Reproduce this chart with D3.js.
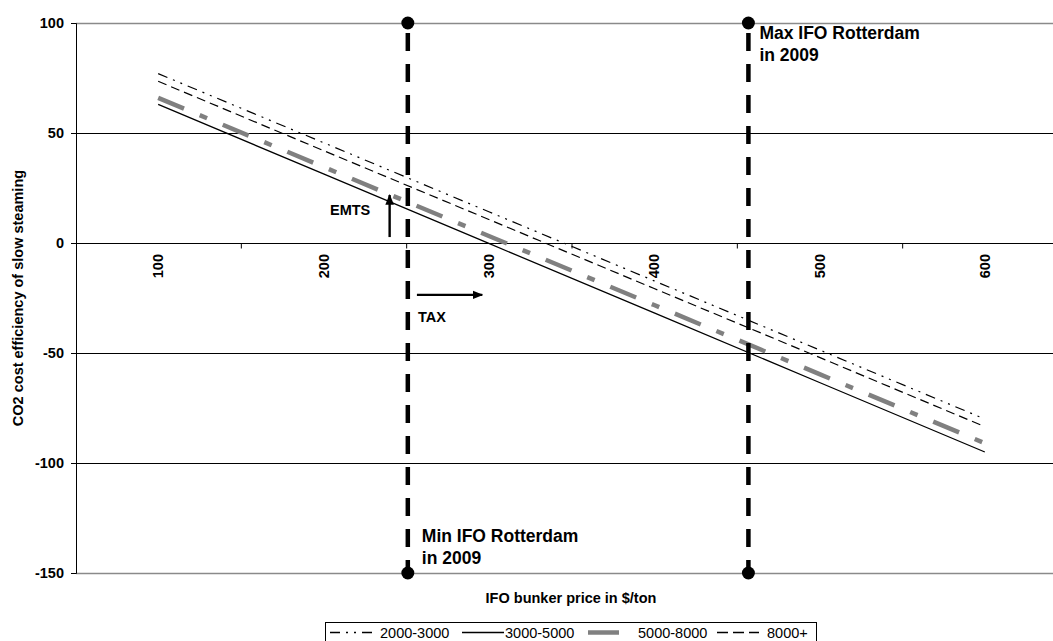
<!DOCTYPE html>
<html><head><meta charset="utf-8">
<script src="https://cdn.jsdelivr.net/npm/d3@7"></script>
<style>
body{margin:0;background:#fff;}
svg{display:block;font-family:"Liberation Sans",Arial,sans-serif;}
</style></head>
<body><svg id="chart" width="1053" height="641"></svg>
<script>
// ---- data ----
const priceTicks = [100, 200, 300, 400, 500, 600];
const yTicks = [100, 50, 0, -50, -100, -150];
const seriesNames = ["2000-3000", "3000-5000", "5000-8000", "8000+"];
const s2000_3000 = [77, 45.6, 14.2, -17.2, -48.6, -80];
const s3000_5000 = [63, 31.4, -0.2, -31.8, -63.4, -95];
const s5000_8000 = [66, 34.6, 3.2, -28.2, -59.6, -91];
const s8000plus  = [73.5, 42, 10.7, -20.7, -52, -83.5];
const ifoMinMax = [251, 457];            // Min / Max IFO Rotterdam 2009
const ifoLabels = [["Min IFO Rotterdam", "in 2009"], ["Max IFO Rotterdam", "in 2009"]];
const emtsArrow = {x: 240, y0: 2.7, y1: 21.8, label: "EMTS"};
const taxArrow = {y: -23.6, x0: 256.5, x1: 296, label: "TAX"};

// ---- layout ----
const svg = d3.select("#chart");
const L = 76, T = 23, B = 573;
const x = d3.scaleLinear().domain([50, 650]).range([75.5, 1067.5]);
const y = d3.scaleLinear().domain([-150, 100]).range([B, T]);

const defs = svg.append("defs");
defs.append("marker").attr("id", "arr").attr("viewBox", "0 0 10 10")
  .attr("refX", 9).attr("refY", 5).attr("markerWidth", 4.5).attr("markerHeight", 4.5)
  .attr("orient", "auto").append("path").attr("d", "M0,1 L10,5 L0,9 z").attr("fill", "#000");

// gridlines
svg.append("g").selectAll("line").data(yTicks).join("line")
  .attr("x1", L).attr("x2", 1053)
  .attr("y1", d => Math.round(y(d)) + 0.5).attr("y2", d => Math.round(y(d)) + 0.5)
  .attr("stroke", d => (d === 100 || d === -150) ? "#8a8a8a" : "#000")
  .attr("stroke-width", d => (d === 100 || d === -150) ? 1.5 : 1);

// y axis
const yAxis = d3.axisLeft(y).tickValues(yTicks).tickSize(5).tickPadding(7).tickFormat(d => String(d));
const gy = svg.append("g").attr("transform", `translate(${L},0)`).call(yAxis);
gy.select(".domain").attr("stroke", "#000");
gy.selectAll("text").attr("font-size", "14.5px").attr("font-weight", "bold").attr("fill", "#000")
  .attr("font-family", "Liberation Sans, Arial, sans-serif");

// x axis at y=0 : ticks between labels
const tickPos = [150, 250, 350, 450, 550, 650];
const gx = svg.append("g").attr("transform", `translate(0,${Math.round(y(0)) + 0.5})`);
gx.call(d3.axisBottom(x).tickValues(tickPos).tickSize(5).tickFormat(""));
gx.select(".domain").remove();
gx.selectAll(".tick line").attr("stroke", "#000");
svg.append("g").selectAll("text").data(priceTicks).join("text")
  .attr("transform", d => `translate(${x(d) + 5},${y(0) + 11}) rotate(-90)`)
  .attr("text-anchor", "end").attr("font-size", "14.5px").attr("font-weight", "bold")
  .text(d => d);

// axis titles
svg.append("text").attr("transform", `translate(23,${(T + B) / 2}) rotate(-90)`)
  .attr("text-anchor", "middle").attr("font-size", "14.5px").attr("font-weight", "bold")
  .text("CO2 cost efficiency of slow steaming");
svg.append("text").attr("x", 571).attr("y", 603).attr("text-anchor", "middle")
  .attr("font-size", "14.5px").attr("font-weight", "bold").text("IFO bunker price in $/ton");

// series
const styles = [
  {data: s2000_3000, color: "#000", width: 1.2, dash: "10,6,2,6,2,6"},
  {data: s3000_5000, color: "#000", width: 1.3, dash: null},
  {data: s5000_8000, color: "#808080", width: 4.5, dash: "28,17,8,17"},
  {data: s8000plus,  color: "#000", width: 1.2, dash: "9,5"}
];
const line = d3.line().x((d, i) => x(priceTicks[i])).y(d => y(d));
svg.append("g").selectAll("path").data(styles).join("path")
  .attr("d", d => line(d.data)).attr("fill", "none")
  .attr("stroke", d => d.color).attr("stroke-width", d => d.width)
  .attr("stroke-dasharray", d => d.dash);

// IFO min/max vertical lines
const gv = svg.append("g");
gv.selectAll("line").data(ifoMinMax).join("line")
  .attr("x1", d => x(d)).attr("x2", d => x(d)).attr("y1", y(100) + 10).attr("y2", y(-150))
  .attr("stroke", "#000").attr("stroke-width", 4.5).attr("stroke-dasharray", "18,13");
ifoMinMax.forEach(v => {
  [100, -150].forEach(t => gv.append("circle").attr("cx", x(v)).attr("cy", y(t)).attr("r", 6.5).attr("fill", "#000"));
});
// labels
const lab1 = svg.append("text").attr("font-size", "17.5px").attr("font-weight", "bold");
lab1.append("tspan").attr("x", x(ifoMinMax[1]) + 11).attr("y", 39).text(ifoLabels[1][0]);
lab1.append("tspan").attr("x", x(ifoMinMax[1]) + 11).attr("y", 61).text(ifoLabels[1][1]);
const lab0 = svg.append("text").attr("font-size", "17.5px").attr("font-weight", "bold");
lab0.append("tspan").attr("x", x(ifoMinMax[0]) + 14).attr("y", 542).text(ifoLabels[0][0]);
lab0.append("tspan").attr("x", x(ifoMinMax[0]) + 14).attr("y", 564).text(ifoLabels[0][1]);

// EMTS / TAX arrows
svg.append("line").attr("x1", x(emtsArrow.x)).attr("x2", x(emtsArrow.x))
  .attr("y1", y(emtsArrow.y0)).attr("y2", y(emtsArrow.y1))
  .attr("stroke", "#000").attr("stroke-width", 2.4).attr("marker-end", "url(#arr)");
svg.append("text").attr("x", 330).attr("y", 215).attr("font-size", "14.5px").attr("font-weight", "bold").text(emtsArrow.label);
svg.append("line").attr("x1", x(taxArrow.x0)).attr("x2", x(taxArrow.x1))
  .attr("y1", y(taxArrow.y)).attr("y2", y(taxArrow.y))
  .attr("stroke", "#000").attr("stroke-width", 2.4).attr("marker-end", "url(#arr)");
svg.append("text").attr("x", 418).attr("y", 322).attr("font-size", "14.5px").attr("font-weight", "bold").text(taxArrow.label);

// legend
const lg = svg.append("g");
lg.append("rect").attr("x", 325.5).attr("y", 622.5).attr("width", 491).attr("height", 40)
  .attr("fill", "#fff").attr("stroke", "#000").attr("stroke-width", 1);
const legX = [330, 462, 588, 717];
styles.forEach((s, i) => {
  lg.append("line").attr("x1", legX[i]).attr("x2", legX[i] + 42).attr("y1", 632.5).attr("y2", 632.5)
    .attr("stroke", s.color).attr("stroke-width", s.width === 4.5 ? 4.5 : 1.5)
    .attr("stroke-dasharray", s.width === 4.5 ? "31,20" : (s.dash ? (i === 0 ? "10,6,2,6,2,6" : "11,5") : null));
  lg.append("text").attr("x", legX[i] + (i === 1 ? 43 : 50)).attr("y", 638).attr("font-size", "14.5px").text(seriesNames[i]);
});
</script></body></html>
